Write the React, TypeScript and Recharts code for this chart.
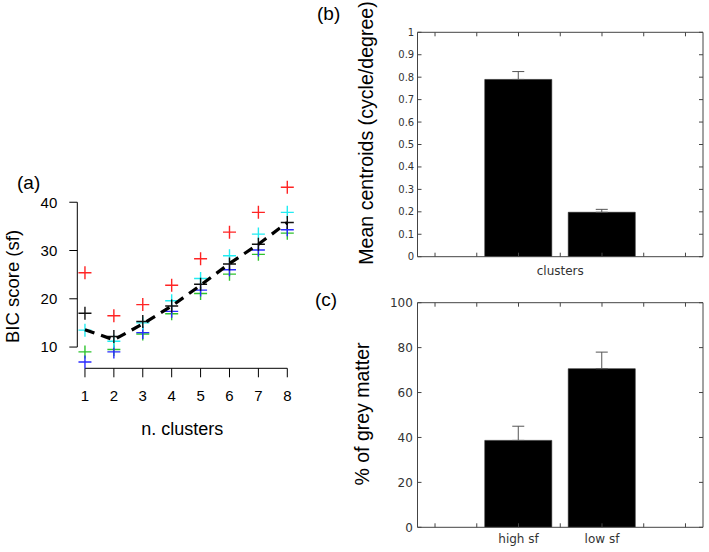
import React from 'react';
import { ComposedChart, Scatter, XAxis, YAxis, ReferenceLine, Bar, ErrorBar, Label } from 'recharts';

// ---------- panel (a) data ----------
const clusters = [1, 2, 3, 4, 5, 6, 7, 8];
const redSeries = [25.4, 16.5, 18.8, 22.8, 28.3, 33.8, 37.9, 43.1];
const blackSeries = [17.0, 12.2, 15.3, 18.5, 23.0, 27.2, 31.3, 35.8];
const cyanSeries = [13.5, 11.2, 15.0, 19.6, 24.2, 28.9, 33.4, 37.9];
const greenSeries = [9.0, 9.5, 12.7, 16.9, 21.1, 25.1, 29.2, 33.6];
const blueSeries = [6.9, 9.0, 13.0, 17.4, 21.8, 26.0, 30.1, 34.3];
const meanLine = [13.6, 11.5, 14.8, 18.5, 22.8, 27.3, 31.3, 35.8];
const bicTicks = [10, 20, 30, 40];
const bicXDomain = [0.735, 8];
const bicYDomain = [5.6, 45];

// ---------- panel (b) data ----------
const centroidCategories = ['cluster 1', 'cluster 2'];
const centroidValues = [0.79, 0.198];
const centroidErrors = [0.035, 0.013];
const centroidTicks = [0, 0.1, 0.2, 0.3, 0.4, 0.5, 0.6, 0.7, 0.8, 0.9, 1];

// ---------- panel (c) data ----------
const greyCategories = ['high sf', 'low sf'];
const greyValues = [38.7, 70.6];
const greyErrors = [6.3, 7.4];
const greyTicks = [0, 20, 40, 60, 80, 100];

const slotTicks = [0, 0.5, 1, 1.5, 2, 2.5, 3];
const slotDomain = [-0.21, 3.21];

const toPoints = (vals: number[]) => vals.map((y, i) => ({ x: clusters[i], y }));

const plus = (color: string) => (props: any) => {
  const { cx, cy } = props;
  if (cx == null || cy == null) return <g />;
  return (
    <path
      d={`M${cx - 6.5},${cy}H${cx + 6.5}M${cx},${cy - 6.5}V${cy + 6.5}`}
      stroke={color}
      strokeWidth={1.4}
      fill="none"
    />
  );
};
const noShape = () => <g />;
const blank = () => '';

const ARIAL = 'Liberation Sans, Arial, sans-serif';
const DEJAVU = 'DejaVu Sans, sans-serif';
const FRAME = '#444';

function PanelA() {
  return (
    <ComposedChart width={340} height={480} margin={{ top: 178.1, right: 52.7, bottom: 41.7, left: 0 }}>
      <XAxis
        type="number"
        dataKey="x"
        domain={bicXDomain}
        ticks={clusters}
        axisLine={false}
        tickLine={{ stroke: '#000' }}
        tickSize={9}
        tickMargin={12.7}
        tick={{ fill: '#000', fontSize: 15, fontFamily: ARIAL }}
        height={70}
        interval={0}
      >
        <Label value="n. clusters" position="insideBottom" offset={3.3} fontSize={18} fill="#000" fontFamily={ARIAL} />
      </XAxis>
      <YAxis
        type="number"
        dataKey="y"
        domain={bicYDomain}
        ticks={bicTicks}
        axisLine={false}
        tickLine={{ stroke: '#000' }}
        tickSize={8}
        tickMargin={12}
        width={77.3}
        tick={{ fill: '#000', fontSize: 15, fontFamily: ARIAL }}
        interval={0}
      />
      <ReferenceLine segment={[{ x: bicXDomain[0], y: bicTicks[0] }, { x: bicXDomain[0], y: bicTicks[3] }]} stroke="#000" strokeWidth={1} ifOverflow="visible" />
      <ReferenceLine segment={[{ x: clusters[0], y: bicYDomain[0] }, { x: clusters[7], y: bicYDomain[0] }]} stroke="#000" strokeWidth={1} ifOverflow="visible" />
      <Scatter data={toPoints(redSeries)} shape={plus('#ff2424')} isAnimationActive={false} />
      <Scatter data={toPoints(greenSeries)} shape={plus('#2ec42e')} isAnimationActive={false} />
      <Scatter data={toPoints(blueSeries)} shape={plus('#2a2aff')} isAnimationActive={false} />
      <Scatter data={toPoints(cyanSeries)} shape={plus('#22ecf2')} isAnimationActive={false} />
      <Scatter data={toPoints(blackSeries)} shape={plus('#111')} isAnimationActive={false} />
      <Scatter
        data={toPoints(meanLine)}
        shape={noShape}
        line={{ stroke: '#000', strokeWidth: 3.2, strokeDasharray: '10 7' }}
        lineType="joint"
        isAnimationActive={false}
      />
    </ComposedChart>
  );
}

function BarPanel(props: {
  categories: string[];
  values: number[];
  errors: number[];
  yTicks: number[];
  yFont: number;
  yMargin: number;
  height: number;
  top: number;
  bottomH: number;
  showCatLabels: boolean;
  axisLabel?: string;
}) {
  const { categories, values, errors, yTicks, yFont, yMargin, height, top, bottomH, showCatLabels, axisLabel } = props;
  const data = categories.map((name, i) => ({ name, pos: i + 1, value: values[i], err: [0, errors[i]] }));
  const yDomain = [yTicks[0], yTicks[yTicks.length - 1]];
  const slotTick = (p: any) => {
    const v = p && p.payload ? p.payload.value : null;
    let lbl = '';
    if (showCatLabels) {
      const idx = data.findIndex((d) => d.pos === v);
      if (idx >= 0) lbl = data[idx].name;
    }
    return (
      <text x={p.x} y={p.y} dy="0.71em" textAnchor="middle" fontSize={12} fontFamily={DEJAVU} fill="#333">
        {lbl}
      </text>
    );
  };
  return (
    <ComposedChart width={332} height={height} data={data} margin={{ top: top - 1, right: 5, bottom: 0, left: 0 }}>
      <XAxis
        xAxisId="num"
        dataKey="pos"
        type="number"
        domain={slotDomain}
        ticks={slotTicks}
        allowDataOverflow
        interval={0}
        axisLine={{ stroke: FRAME }}
        tickLine={{ stroke: FRAME }}
        tickSize={-4}
        tickMargin={10.7}
        tick={slotTick}
        height={bottomH}
      >
        {axisLabel ? (
          <Label value={axisLabel} position="insideBottom" offset={bottomH - 18.3} fontSize={12} fill="#333" fontFamily={DEJAVU} />
        ) : null}
      </XAxis>
      <XAxis
        xAxisId="top"
        dataKey="pos"
        orientation="top"
        type="number"
        domain={slotDomain}
        ticks={slotTicks}
        allowDataOverflow
        interval={0}
        axisLine={{ stroke: FRAME }}
        tickLine={{ stroke: FRAME }}
        tickSize={-4}
        tickFormatter={blank}
        tick={{ fill: '#333', fontSize: 10 }}
        height={1}
      />
      <YAxis
        yAxisId="left"
        type="number"
        domain={yDomain}
        ticks={yTicks}
        allowDataOverflow
        interval={0}
        axisLine={{ stroke: FRAME }}
        tickLine={{ stroke: FRAME }}
        tickSize={-4}
        tickMargin={yMargin}
        width={40.5}
        tick={{ fill: '#333', fontSize: yFont, fontFamily: DEJAVU }}
      />
      <YAxis
        yAxisId="right"
        dataKey="value"
        orientation="right"
        type="number"
        domain={yDomain}
        ticks={yTicks}
        allowDataOverflow
        interval={0}
        axisLine={{ stroke: FRAME }}
        tickLine={{ stroke: FRAME }}
        tickSize={-4}
        tickFormatter={blank}
        tick={{ fill: '#333', fontSize: 10 }}
        width={1}
      />
      <Bar xAxisId="num" yAxisId="left" dataKey="value" fill="#000" stroke="#222" strokeWidth={0.6} barSize={67} isAnimationActive={false}>
        <ErrorBar dataKey="err" direction="y" width={6} stroke="#555" strokeWidth={1} isAnimationActive={false} />
      </Bar>
    </ComposedChart>
  );
}

export default function App() {
  return (
    <div style={{ position: 'absolute', left: 0, top: 0, width: 709, height: 552, background: '#fff', overflow: 'hidden' }}>
      <div style={{ position: 'absolute', left: 0, top: 0 }}>
        <PanelA />
      </div>
      <div style={{ position: 'absolute', left: 377, top: 0 }}>
        <BarPanel
          categories={centroidCategories}
          values={centroidValues}
          errors={centroidErrors}
          yTicks={centroidTicks}
          yFont={10}
          yMargin={7.3}
          height={292}
          top={32.3}
          bottomH={35.3}
          showCatLabels={false}
          axisLabel="clusters"
        />
      </div>
      <div style={{ position: 'absolute', left: 377, top: 280 }}>
        <BarPanel
          categories={greyCategories}
          values={greyValues}
          errors={greyErrors}
          yTicks={greyTicks}
          yFont={12}
          yMargin={8.7}
          height={272}
          top={22.7}
          bottomH={24.7}
          showCatLabels={true}
        />
      </div>
      <svg width={709} height={552} style={{ position: 'absolute', left: 0, top: 0, pointerEvents: 'none' }}>
        <text x={17} y={189} fontSize={19} fontFamily={ARIAL} fill="#000">(a)</text>
        <text x={317} y={19.5} fontSize={19} fontFamily={ARIAL} fill="#000">(b)</text>
        <text x={315} y={306} fontSize={19} fontFamily={ARIAL} fill="#000">(c)</text>
        <text transform="translate(18.5,286.5) rotate(-90)" textAnchor="middle" fontSize={18.5} fontFamily={ARIAL} fill="#000">BIC score (sf)</text>
        <text transform="translate(373,133) rotate(-90)" textAnchor="middle" fontSize={19.6} fontFamily={ARIAL} fill="#000">Mean centroids (cycle/degree)</text>
        <text transform="translate(369,414) rotate(-90)" textAnchor="middle" fontSize={19.5} fontFamily={ARIAL} fill="#000">% of grey matter</text>
      </svg>
    </div>
  );
}
